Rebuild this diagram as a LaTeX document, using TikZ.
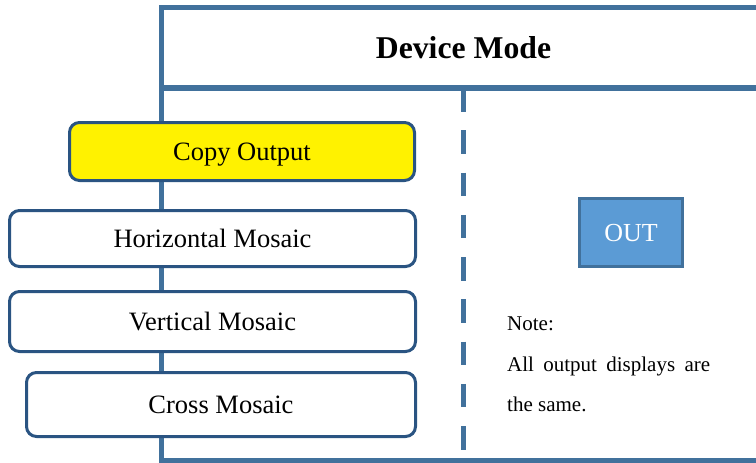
\documentclass[tikz,border=0pt]{standalone}
\usepackage{fontspec}
\setmainfont{Liberation Serif}
\usetikzlibrary{calc}
\definecolor{framebl}{RGB}{65,113,156}
\definecolor{boxbl}{RGB}{42,84,130}
\definecolor{outbl}{RGB}{91,155,213}
\def\drawframe{\draw[color=framebl, line width=5pt]}
\def\modenode{\node[draw=boxbl, line width=3pt, rounded corners=10pt, fill=white, inner sep=0pt, text height=17.5pt, text depth=0pt, font=\fontsize{26.5}{30}\selectfont]}

\begin{document}
\begin{tikzpicture}[x=1pt,y=-1pt]
\useasboundingbox (0,0) rectangle (756,463);
\clip (0,0) rectangle (756,463);
\coordinate (topl) at (161,7.5); % top left corner of the frame
\coordinate (botr) at (780,460); % runs off the right edge
\coordinate (split) at ($ (topl) + (0,80.5) $); % left end of the header line

% ---------- frame and header
\drawframe (topl) rectangle (botr);
\drawframe[line width=5.5pt] (split) -- (split -| botr);
\node[font=\fontsize{31.7}{36}\selectfont\bfseries] (title) at ($ (topl) + (302.5,40.5) $) {Device Mode};

% dashed divider between the modes and the output
\coordinate (dash_top) at (split -| title);
\coordinate (dash_bot) at ($ (dash_top) + (0,361.5) $);
\drawframe[dash pattern=on 23.5pt off 18.75pt] (dash_top) -- (dash_bot);

% ---------- the modes, left column
\modenode[fill=yellow, minimum width=345pt, minimum height=58pt] (copy) at (242,151.5) {Copy Output};
\modenode[minimum width=406pt, minimum height=56pt] (horiz) at (212.5,238.5) {Horizontal Mosaic};
\modenode[minimum width=406pt, minimum height=60pt] (vert) at (212.5,321.5) {Vertical Mosaic};
\modenode[minimum width=389pt, minimum height=64pt] (cross) at (221,404.5) {Cross Mosaic};

% ---------- output side
\node[draw=framebl, line width=2.5pt, fill=outbl, text=white, inner sep=0pt, minimum width=103pt, minimum height=68pt, text height=17pt, text depth=0pt, font=\fontsize{26}{30}\selectfont] (out) at (631,232.5) {OUT};
\node[anchor=north west, align=left, inner sep=0pt, font=\fontsize{21}{40.5}\selectfont] (note) at (507,317) {Note:\\\makebox[203pt][s]{All output displays are}\\the same.};
\end{tikzpicture}
\end{document}
